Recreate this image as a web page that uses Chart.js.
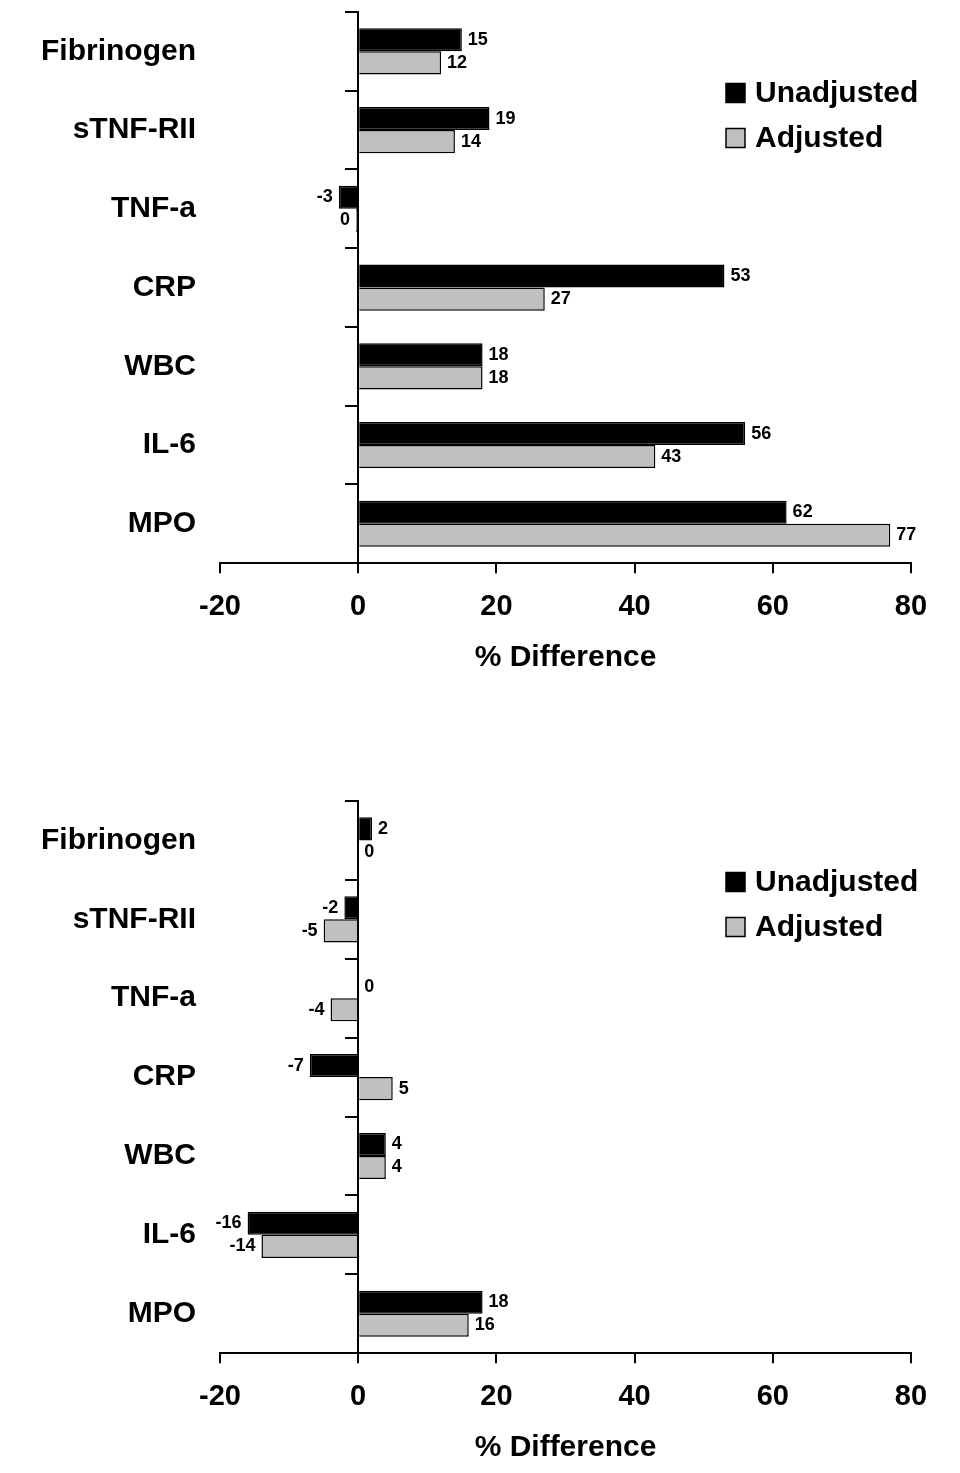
<!DOCTYPE html>
<html>
<head>
<meta charset="utf-8">
<script src="https://cdn.jsdelivr.net/npm/chart.js@4.4.1/dist/chart.umd.min.js"></script>
<style>
  body { margin: 0; background: #fff; }
  .panel { position: relative; width: 960px; }
  #top { height: 789px; }
  #bottom { height: 684px; }
</style>
</head>
<body>
<div class="panel" id="top"><canvas id="chartTop"></canvas></div>
<div class="panel" id="bottom"><canvas id="chartBottom"></canvas></div>
<script>
// Data
const categories = ['Fibrinogen', 'sTNF-RII', 'TNF-a', 'CRP', 'WBC', 'IL-6', 'MPO'];
const seriesNames = ['Unadjusted', 'Adjusted'];

const topUnadjusted = [15, 19, -2.8, 53, 18, 56, 62];
const topAdjusted = [12, 14, -0.3, 27, 18, 43, 77];

const bottomUnadjusted = [2, -2, 0, -7, 4, -16, 18];
const bottomAdjusted = [0, -5, -4, 5, 4, -14, 16];

const xTicks = { min: -20, max: 80, step: 20 };

const FONT = "'Liberation Sans', Arial, sans-serif";

// value labels at the end of each bar
const valueLabels = {
  id: 'valueLabels',
  afterDatasetsDraw(chart) {
    const ctx = chart.ctx;
    ctx.save();
    ctx.font = 'bold 18px ' + FONT;
    ctx.fillStyle = '#000';
    ctx.textBaseline = 'middle';
    chart.data.datasets.forEach((ds, di) => {
      const meta = chart.getDatasetMeta(di);
      meta.data.forEach((bar, i) => {
        const v = ds.data[i];
        const txt = String(Math.round(v) || 0);
        if (v < 0) {
          ctx.textAlign = 'right';
          ctx.fillText(txt, bar.x - 6, bar.y);
        } else {
          ctx.textAlign = 'left';
          ctx.fillText(txt, bar.x + 6, bar.y);
        }
      });
    });
    ctx.restore();
  }
};

// legend drawn inside the plot area, upper right
const boxLegend = {
  id: 'boxLegend',
  afterDraw(chart) {
    const ctx = chart.ctx;
    const area = chart.chartArea;
    const x = area.right - 185;
    ctx.save();
    ctx.font = 'bold 30px ' + FONT;
    ctx.textBaseline = 'middle';
    ctx.textAlign = 'left';
    chart.data.datasets.forEach((ds, i) => {
      const cy = area.top + 81 + i * 45;
      ctx.fillStyle = ds.backgroundColor;
      ctx.fillRect(x, cy - 9.5, 19, 19);
      ctx.strokeStyle = '#000';
      ctx.lineWidth = 1.5;
      ctx.strokeRect(x, cy - 9.5, 19, 19);
      ctx.fillStyle = '#000';
      ctx.fillText(ds.label, x + 29, cy + 1);
    });
    ctx.restore();
  }
};

function makePanel(canvasId, unadjusted, adjusted, padBottom) {
  return new Chart(document.getElementById(canvasId), {
    type: 'bar',
    data: {
      labels: categories,
      datasets: [
        {
          label: seriesNames[0],
          data: unadjusted,
          backgroundColor: '#000000',
          borderColor: '#000000',
          borderWidth: 1.5,
          categoryPercentage: 0.585,
          barPercentage: 1.0,
          yAxisID: 'y',
        },
        {
          label: seriesNames[1],
          data: adjusted,
          backgroundColor: '#c0c0c0',
          borderColor: '#000000',
          borderWidth: 1.5,
          categoryPercentage: 0.585,
          barPercentage: 1.0,
          yAxisID: 'y',
        },
      ],
    },
    options: {
      indexAxis: 'y',
      responsive: true,
      maintainAspectRatio: false,
      animation: false,
      layout: { padding: { top: 12, left: 41, right: 49, bottom: padBottom } },
      plugins: {
        legend: { display: false },
        tooltip: { enabled: false },
      },
      scales: {
        x: {
          type: 'linear',
          position: 'bottom',
          min: xTicks.min,
          max: xTicks.max,
          border: { display: true, color: '#000', width: 2 },
          grid: { drawOnChartArea: false, drawTicks: true, tickLength: 10, color: '#000', lineWidth: 2 },
          ticks: {
            stepSize: xTicks.step,
            color: '#000',
            padding: 16,
            font: { family: FONT, size: 29, weight: 'bold' },
          },
          title: {
            display: true,
            text: '% Difference',
            color: '#000',
            padding: { top: 0, bottom: 0 },
            font: { family: FONT, size: 30, weight: 'bold' },
          },
        },
        // category names on the left (gap made with an invisible tick length)
        y: {
          type: 'category',
          position: 'left',
          offset: true,
          border: { display: false },
          grid: { display: false, drawTicks: true, tickLength: 24, offset: true },
          ticks: {
            color: '#000',
            padding: 0,
            font: { family: FONT, size: 30, weight: 'bold', lineHeight: 0.5 },
          },
        },
        // the zero line with its category tick marks
        y0: {
          type: 'category',
          position: { x: 0 },
          offset: true,
          border: { display: true, color: '#000', width: 2 },
          grid: { offset: true, drawOnChartArea: false, drawTicks: true, tickLength: 12, color: '#000', lineWidth: 2 },
          ticks: { display: false },
        },
      },
    },
    plugins: [valueLabels, boxLegend],
  });
}

makePanel('chartTop', topUnadjusted, topAdjusted, 113);
makePanel('chartBottom', bottomUnadjusted, bottomAdjusted, 7);
</script>
</body>
</html>
